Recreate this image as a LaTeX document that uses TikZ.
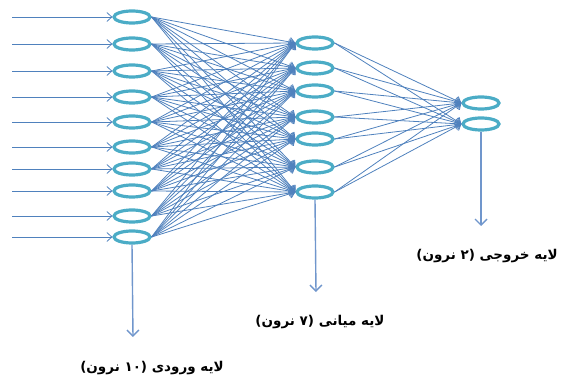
\documentclass[tikz,border=0pt]{standalone}
\usepackage{fontspec}
\usetikzlibrary{arrows.meta,shapes.geometric}
\newfontfamily\arabicfont[Script=Arabic]{DejaVu Sans}
\TeXXeTstate=1
\definecolor{neuron}{HTML}{4BACC6}
\definecolor{link}{HTML}{4F81BD}
\definecolor{downlink}{HTML}{7096CC}
\tikzset{
  neuronbox/.style={draw=neuron, ellipse, line width=3.2pt, minimum width=36pt, minimum height=12pt, inner sep=0pt},
  linkarrow/.style={draw=link, line width=0.8pt, -{Straight Barb[length=5pt,width=9pt]}},
  downarrow/.style={draw=downlink, line width=1.4pt, -{Straight Barb[length=6pt,width=12pt]}},
  layerlabel/.style={font=\arabicfont\bfseries\fontsize{13.5}{16}\selectfont, inner sep=0pt}
}
\begin{document}
\begin{tikzpicture}[x=1pt,y=-1pt]
\useasboundingbox (0,0) rectangle (567,379);
% input layer
\foreach \n/\y in {1/17,2/44,3/71,4/97,5/122,6/147,7/169,8/191,9/216,10/237}{
  \node[neuronbox] (i\n) at (132,\y) {};
  \coordinate (s\n) at (12,\y);
}
% hidden layer
\foreach \n/\y in {1/43,2/68,3/91,4/117,5/139,6/167,7/192}{
  \node[neuronbox] (h\n) at (315,\y) {};
}
% output layer
\foreach \n/\y in {1/103,2/124}{
  \node[neuronbox] (o\n) at (481,\y) {};
}
% input arrows
\foreach \n in {1,...,10}{
  \draw[linkarrow] (s\n) -- (i\n.west);
}
% input -> hidden
\foreach \a in {1,...,10}{
  \foreach \b in {1,...,7}{
    \draw[linkarrow] (i\a.east) -- (h\b.west);
  }
}
% hidden -> output
\foreach \a in {1,...,7}{
  \foreach \b in {1,2}{
    \draw[linkarrow] (h\a.east) -- (o\b.west);
  }
}
% down arrows
\coordinate (di) at (133,337);
\coordinate (dh) at (316,292);
\coordinate (do) at (481,226);
\draw[downarrow] (i10.south) -- (di);
\draw[downarrow] (h7.south) -- (dh);
\draw[downarrow] (o2.south) -- (do);
% labels
\node[layerlabel] (li) at (152,368) {\beginR لایه ورودی (۱۰ نرون)\endR};
\node[layerlabel] (lh) at (320,322) {\beginR لایه میانی (۷ نرون)\endR};
\node[layerlabel] (lo) at (487,256) {\beginR لایه خروجی (۲ نرون)\endR};
\end{tikzpicture}
\end{document}
